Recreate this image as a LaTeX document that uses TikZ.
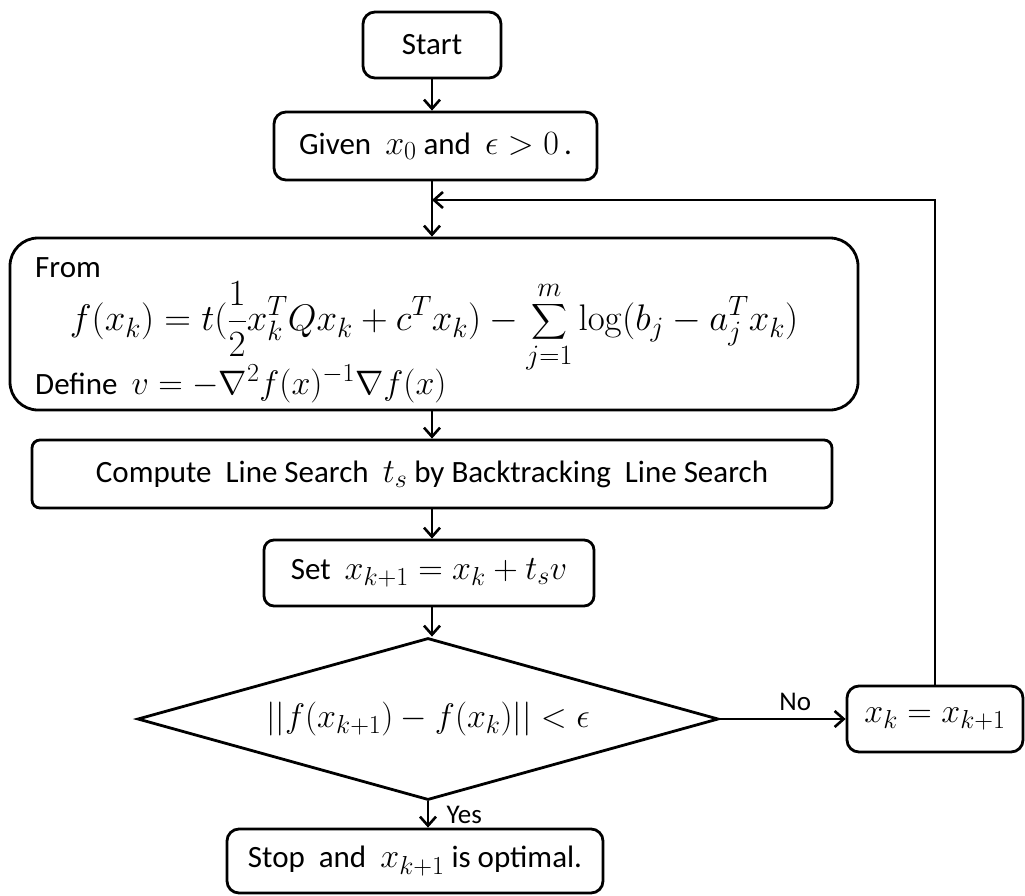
\RequirePackage{fix-cm}
\documentclass[tikz,border=0pt]{standalone}
\usepackage{amsmath}
\usepackage[no-math]{fontspec}
\setmainfont{Carlito}
\usetikzlibrary{shapes.geometric,arrows.meta}
\DeclareMathSizes{34}{34}{26}{20}
\DeclareMathSizes{37}{37}{28}{22}
\newcommand{\MM}[1]{{\fontsize{34}{40}\selectfont$#1$}}
\newcommand{\MB}[1]{{\fontsize{37}{42}\selectfont$#1$}}
\begin{document}
\begin{tikzpicture}[x=1pt,y=-1pt,
 box/.style={draw,line width=2.8pt,rounded corners=12pt,inner sep=0pt},
 conn/.style={line width=2.8pt,-{Straight Barb[length=9pt,width=16pt,line width=2.6pt]}},
 lbl/.style={font=\fontsize{27}{30}\selectfont},
 every node/.style={font=\fontsize{31}{36}\selectfont}]
\useasboundingbox (0,0) rectangle (1025,895);
\node[box,minimum width=138pt,minimum height=66pt] (start) at (432,45) {Start};
\node[box,minimum width=323pt,minimum height=68pt] (given) at (435.5,146) {Given\ \ \MM{x_0}\ and\ \ \MM{\epsilon>0}\,.};
\node[box,rounded corners=28pt,minimum width=848pt,minimum height=172pt] (from) at (434,324) {};
\node[anchor=base west,inner sep=0pt] (fromtxt) at (35,277) {From};
\node[inner sep=0pt] (formula) at (434,327) {\MB{\displaystyle f(x_k)=t(\frac{1}{2}x_k^TQx_k+c^Tx_k)-\sum_{j=1}^{m}\log(b_j-a_j^Tx_k)}};
\node[anchor=base west,inner sep=0pt] (deftxt) at (35,394) {Define\ \ \MM{v=-\nabla^2 f(x)^{-1}\nabla f(x)}};
\node[box,rounded corners=8pt,minimum width=800pt,minimum height=68pt] (ls) at (432,474) {Compute\ \ Line Search\ \ \MM{t_s} by Backtracking\ \ Line Search};
\node[box,rounded corners=10pt,minimum width=330pt,minimum height=66pt] (set) at (429,573) {Set\ \ \MM{x_{k+1}=x_k+t_sv}};
\node[draw,diamond,aspect=3.586,line width=2.8pt,inner sep=0pt,minimum width=581pt,minimum height=162pt] (dec) at (428,719) {\MM{||f(x_{k+1})-f(x_k)||<\epsilon}};
\node[box,minimum width=176pt,minimum height=66pt] (upd) at (935,719) {\MM{x_k=x_{k+1}}};
\node[box,minimum width=376pt,minimum height=64pt] (stop) at (415,861) {Stop\ \ and\ \ \MM{x_{k+1}} is optimal.};
\coordinate (loopin) at (432,200);
\draw[conn] (start.south) -- (start.south |- given.north);
\draw[conn] (start.south |- given.south) -- (start.south |- from.north);
\draw[conn] (upd.north) |- (loopin);
\draw[conn] (start.south |- from.south) -- (start.south |- ls.north);
\draw[conn] (start.south |- ls.south) -- (start.south |- set.north);
\draw[conn] (start.south |- set.south) -- (start.south |- dec.north);
\draw[conn] (dec.east) -- node[lbl,pos=0.6,above=4pt] {No} (upd.west);
\draw[conn] (dec.south) -- node[lbl,right=14pt] {Yes} (dec.south |- stop.north);
\end{tikzpicture}
\end{document}
